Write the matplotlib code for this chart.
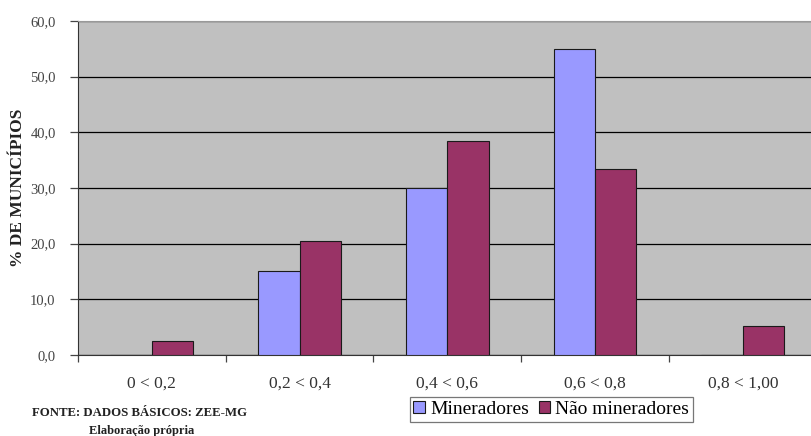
import numpy as np
import matplotlib.pyplot as plt
from matplotlib.ticker import FuncFormatter

plt.rcParams['font.family'] = ['Liberation Serif', 'DejaVu Serif']

# faixas de IDH e % de municípios em cada uma
categorias = ['0 < 0,2', '0,2 < 0,4', '0,4 < 0,6', '0,6 < 0,8', '0,8 < 1,00']
mineradores = [0.0, 15.0, 30.0, 55.0, 0.0]
nao_mineradores = [2.5, 20.5, 38.5, 33.4, 5.2]

fig = plt.figure(figsize=(8.11, 4.36), dpi=100)
ax = fig.add_axes([0.096, 0.186, 0.911, 0.766])
ax.set_facecolor('#C0C0C0')

x = np.arange(len(categorias))
w = 0.28
ax.bar(x - w / 2, mineradores, w, color='#9999FF', edgecolor='#1a1a1a',
       linewidth=0.8, label='Mineradores', zorder=3)
ax.bar(x + w / 2, nao_mineradores, w, color='#993366', edgecolor='#1a1a1a',
       linewidth=0.8, label='Não mineradores', zorder=3)

ax.set_ylim(0, 60)
ax.set_xlim(-0.5, len(categorias) - 0.5)
ax.set_yticks(np.arange(0, 61, 10))
ax.yaxis.set_major_formatter(FuncFormatter(lambda v, p: f'{v:.1f}'.replace('.', ',')))
ax.grid(axis='y', color='black', linewidth=0.9, zorder=1)

# marcas entre as categorias, rótulos no centro
ax.set_xticks(np.arange(-0.5, len(categorias), 1.0))
ax.set_xticklabels([])
ax.set_xticks(x, minor=True)
ax.set_xticklabels(categorias, minor=True)
ax.tick_params(axis='x', which='major', length=5, width=0.9, color='#444444')
ax.tick_params(axis='x', which='minor', length=0, pad=15, labelsize=12.5,
               labelcolor='#333333')
ax.tick_params(axis='y', length=6, width=0.9, color='#444444', labelsize=10.5,
               labelcolor='#444444', pad=10)

for s in ['left', 'bottom']:
    ax.spines[s].set_color('#333333')
ax.spines['top'].set_color('#999999')
ax.spines['right'].set_visible(False)

ax.set_ylabel('% DE MUNICÍPIOS', fontsize=12.5, fontweight='bold',
              color='#222222', labelpad=3)

leg = fig.legend(loc='lower left', bbox_to_anchor=(0.505, 0.032), ncol=2,
                 fontsize=14, frameon=True, fancybox=False, edgecolor='#555555',
                 handlelength=0.6, handleheight=0.6, handletextpad=0.25,
                 columnspacing=0.5, borderpad=0.2, borderaxespad=0)
leg.get_frame().set_linewidth(0.9)

fig.text(0.040, 0.045, 'FONTE: DADOS BÁSICOS: ZEE-MG', fontsize=9.2,
         fontweight='bold', color='#222222')
fig.text(0.175, 0.005, 'Elaboração própria', fontsize=9,
         fontweight='bold', color='#222222', ha='center')

fig.savefig('out.png', dpi=100)
